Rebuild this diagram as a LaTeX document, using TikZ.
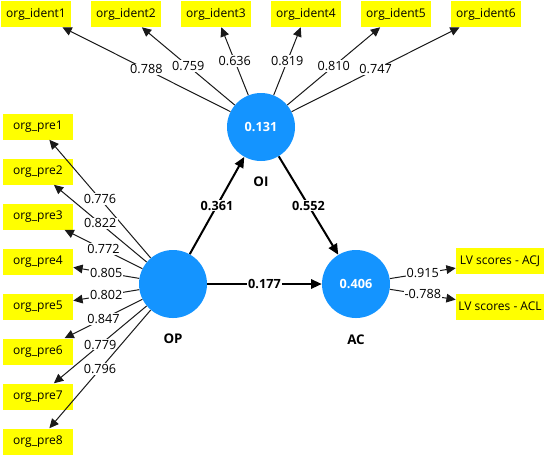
\documentclass[tikz,border=0pt]{standalone}
\usepackage{fontspec}
\setmainfont{Open Sans}
\usetikzlibrary{arrows.meta}
\definecolor{lvblue}{RGB}{20,148,255}
\definecolor{mvyellow}{RGB}{255,255,0}
\begin{document}
\begin{tikzpicture}[x=0.75pt,y=-0.75pt,
  mv/.style={fill=mvyellow, minimum width=52.5pt, minimum height=19.5pt, inner sep=0pt, font=\fontsize{9}{11}\selectfont},
  mvwide/.style={mv, minimum width=66pt},
  lv/.style={circle, fill=lvblue, minimum size=51pt, inner sep=0pt, text=white, font=\bfseries\fontsize{9.5}{11}\selectfont},
  lvname/.style={font=\bfseries\fontsize{10}{12}\selectfont},
  outer/.style={-{Triangle[length=7pt,width=6.5pt]}, line width=0.75pt, draw=black!90},
  inner/.style={-{Triangle[length=8pt,width=7pt]}, line width=1.5pt},
  wt/.style={fill=white, inner sep=0.8pt, font=\fontsize{9.5}{11}\selectfont},
  pw/.style={fill=white, inner sep=0.8pt, font=\bfseries\fontsize{9.5}{11}\selectfont}
]
\useasboundingbox (0,0) rectangle (548,455);
% latent variables
\node[lv] (OI) at (261,127) {0.131};
\node[lv] (OP) at (173,284) {};
\node[lv] (AC) at (356,284) {0.406};
\node[lvname] (OIn) at (261,182) {OI};
\node[lvname] (OPn) at (173,339) {OP};
\node[lvname] (ACn) at (356,340) {AC};
% indicators
\node[mv] (i1) at (36,14) {org\_ident1};
\node[mv] (i2) at (126,14) {org\_ident2};
\node[mv] (i3) at (216,14) {org\_ident3};
\node[mv] (i4) at (306,14) {org\_ident4};
\node[mv] (i5) at (396,14) {org\_ident5};
\node[mv] (i6) at (486,14) {org\_ident6};
\node[mv] (p1) at (38,126.5) {org\_pre1};
\node[mv] (p2) at (38,171.5) {org\_pre2};
\node[mv] (p3) at (38,216.5) {org\_pre3};
\node[mv] (p4) at (38,261.5) {org\_pre4};
\node[mv] (p5) at (38,306.5) {org\_pre5};
\node[mv] (p6) at (38,351.5) {org\_pre6};
\node[mv] (p7) at (38,396.5) {org\_pre7};
\node[mv] (p8) at (38,441.5) {org\_pre8};
\node[mvwide] (acj) at (500,261) {LV scores - ACJ};
\node[mvwide] (acl) at (500,306.5) {LV scores - ACL};
% outer loadings
\draw[outer] (OI) -- node[wt] {0.788} (i1);
\draw[outer] (OI) -- node[wt] {0.759} (i2);
\draw[outer] (OI) -- node[wt] {0.636} (i3);
\draw[outer] (OI) -- node[wt] {0.819} (i4);
\draw[outer] (OI) -- node[wt] {0.810} (i5);
\draw[outer] (OI) -- node[wt] {0.747} (i6);
\draw[outer] (OP) -- node[wt] {0.776} (p1);
\draw[outer] (OP) -- node[wt] {0.822} (p2);
\draw[outer] (OP) -- node[wt] {0.772} (p3);
\draw[outer] (OP) -- node[wt] {0.805} (p4);
\draw[outer] (OP) -- node[wt] {0.802} (p5);
\draw[outer] (OP) -- node[wt] {0.847} (p6);
\draw[outer] (OP) -- node[wt] {0.779} (p7);
\draw[outer] (OP) -- node[wt] {0.796} (p8);
\draw[outer] (AC) -- node[wt] {0.915} (acj);
\draw[outer] (AC) -- node[wt] {-0.788} (acl);
% path coefficients
\draw[inner] (OP) -- node[pw] {0.361} (OI);
\draw[inner] (OI) -- node[pw] {0.552} (AC);
\draw[inner] (OP) -- node[pw] {0.177} (AC);
\end{tikzpicture}
\end{document}
